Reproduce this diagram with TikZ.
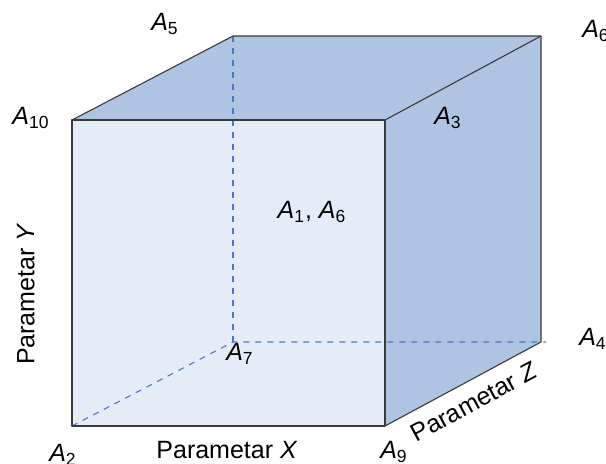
\documentclass[tikz,border=0pt]{standalone}
\usepackage{fontspec}
\setmainfont{Liberation Sans}
\usetikzlibrary{positioning}
\definecolor{cfront}{HTML}{E6ECF7}
\definecolor{cside}{HTML}{AFC4E3}
\definecolor{cedge}{HTML}{3A3A3A}
\definecolor{chid}{HTML}{4A78C8}
\newcommand{\Ai}[1]{\textit{A}\textsubscript{#1}}
\tikzset{
  face/.style={draw=cedge, line width=0.55pt, line join=round},
  hid/.style={draw=chid, dashed, line width=0.55pt},
  lbl/.style={font=\fontsize{12.5}{15}\selectfont, inner sep=0pt},
}

\begin{document}
\begin{tikzpicture}[x=0.5pt,y=-0.5pt]
  \useasboundingbox (0,0) rectangle (606,463);
  % front corners
  \coordinate (a2) at (72,426);
  \coordinate (a9) at (385,426);
  \coordinate (a10) at (72,120);
  \coordinate (f3) at (385,120);
  % back corners
  \coordinate (a7) at (233,342);
  \coordinate (a4) at (541,342);
  \coordinate (a5) at (233,36);
  \coordinate (a6) at (541,36);
  \coordinate (a4x) at (546,342);
  % faces
  \fill[cside] (a10) -- (a5) -- (a6) -- (a4) -- (a9) -- (f3) -- cycle;
  \fill[cfront] (a2) rectangle (f3);
  % hidden edges
  \draw[hid] (a5) -- (a7);
  \draw[hid] (a2) -- (a7) -- (a4) -- (a4x);
  % visible edges
  \draw[face] (a2) rectangle (f3);
  \draw[face] (a10) -- (a5) -- (a6) -- (a4) -- (a9);
  \draw[face] (f3) -- (a6);
  % labels
  \node[lbl] (l5) at (165,24) {\Ai{5}};
  \node[lbl] (l6) at (596,31) {\Ai{6}};
  \node[lbl] (l10) at (31,118) {\Ai{10}};
  \node[lbl] (l3) at (448,118) {\Ai{3}};
  \node[lbl] (l16) at (312,212) {\Ai{1}, \Ai{6}};
  \node[lbl] (l7) at (240,354) {\Ai{7}};
  \node[lbl] (l4) at (593,339) {\Ai{4}};
  \node[lbl] (l2) at (63,455) {\Ai{2}};
  \node[lbl] (l9) at (394,452) {\Ai{9}};
  \node[lbl] (px) at (227,450) {Parametar \textit{X}};
  \node[lbl, rotate=90] (py) at (26,294) {Parametar \textit{Y}};
  \node[lbl, rotate=28.3] (pz) at (474,402) {Parametar \textit{Z}};
\end{tikzpicture}
\end{document}
